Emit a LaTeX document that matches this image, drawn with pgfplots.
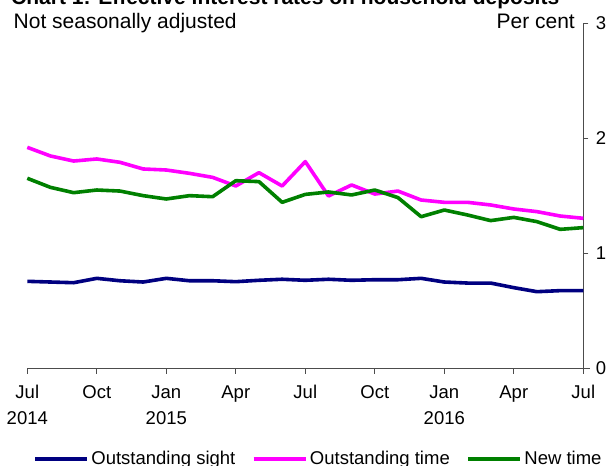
\documentclass[border=0pt]{standalone}
\usepackage{pgfplots}
\pgfplotsset{compat=1.18}
\usepackage{fontspec}
\setmainfont{Liberation Sans}
\definecolor{navyc}{HTML}{000080}
\definecolor{magc}{HTML}{FF00FF}
\definecolor{greenc}{HTML}{008000}
\begin{document}
\begin{tikzpicture}
\useasboundingbox (0,0) rectangle (611bp,466bp);
\node[anchor=base west, font=\fontsize{21bp}{25bp}\selectfont\bfseries, inner sep=0] at (11bp,461.5bp) {Chart 1: Effective interest rates on household deposits};
\node[anchor=base west, font=\fontsize{21bp}{25bp}\selectfont, inner sep=0] at (13.5bp,437bp) {Not seasonally adjusted};
\node[anchor=base east, font=\fontsize{21bp}{25bp}\selectfont, inner sep=0] at (575bp,437bp) {Per cent};
\begin{axis}[
  at={(27.3bp,97.5bp)}, anchor=origin,
  scale only axis, width=556bp, height=345bp,
  xmin=0, xmax=24, ymin=0, ymax=3,
  clip=false,
  axis x line=bottom, axis y line=right,
  axis line style={-, draw=black!70, line width=0.9bp},
  x axis line style={shorten >=-7bp},
  tick style={draw=black!70, line width=0.9bp},
  tick align=outside, major tick length=5bp,
  xtick={0,3,...,24},
  xticklabels={Jul\\2014, Oct, Jan\\2015, Apr, Jul, Oct, Jan\\2016, Apr, Jul},
  xticklabel style={align=center, font=\fontsize{18.5bp}{26bp}\selectfont, yshift=-8.5bp},
  ytick={0,1,2,3},
  yticklabel style={font=\fontsize{18.5bp}{22bp}\selectfont, xshift=4bp},
  /pgf/number format/assume math mode=true,
  legend columns=3,
  legend style={at={(0.0104,-0.262)}, anchor=west, draw=none, fill=none, inner sep=0pt,
    font=\fontsize{18.5bp}{22bp}\selectfont,
    /tikz/every even column/.append style={column sep=14bp},
    nodes={inner sep=2.5bp}},
  legend image code/.code={\draw[#1] (0bp,0bp) -- (52bp,0bp);},
  every axis plot/.append style={line width=3.6bp, line join=round},
]
\addplot[navyc] coordinates {
(0,0.758)(1,0.752)(2,0.746)(3,0.784)(4,0.763)(5,0.752)(6,0.784)(7,0.763)(8,0.763)
(9,0.755)(10,0.767)(11,0.776)(12,0.767)(13,0.776)(14,0.767)(15,0.772)(16,0.772)
(17,0.784)(18,0.752)(19,0.743)(20,0.743)(21,0.703)(22,0.668)(23,0.677)(24,0.677)};
\addlegendentry{Outstanding sight}
\addplot[magc] coordinates {
(0,1.923)(1,1.848)(2,1.804)(3,1.822)(4,1.793)(5,1.735)(6,1.726)(7,1.697)(8,1.662)
(9,1.587)(10,1.703)(11,1.587)(12,1.799)(13,1.500)(14,1.596)(15,1.517)(16,1.543)
(17,1.465)(18,1.445)(19,1.445)(20,1.422)(21,1.387)(22,1.364)(23,1.326)(24,1.306)};
\addlegendentry{Outstanding time}
\addplot[greenc] coordinates {
(0,1.654)(1,1.575)(2,1.529)(3,1.552)(4,1.543)(5,1.503)(6,1.474)(7,1.503)(8,1.494)
(9,1.633)(10,1.625)(11,1.445)(12,1.514)(13,1.535)(14,1.509)(15,1.552)(16,1.486)
(17,1.320)(18,1.378)(19,1.335)(20,1.286)(21,1.314)(22,1.277)(23,1.210)(24,1.225)};
\addlegendentry{New time}
\end{axis}
\end{tikzpicture}
\end{document}
